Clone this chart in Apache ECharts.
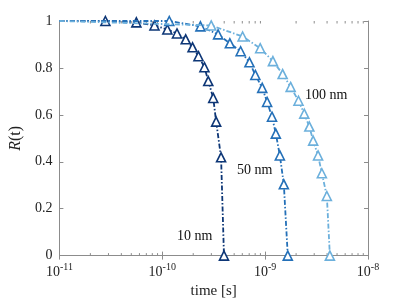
<!DOCTYPE html>
<html>
<head>
<meta charset="utf-8">
<script src="https://cdn.jsdelivr.net/npm/echarts@6/dist/echarts.min.js"></script>
<style>html,body{margin:0;padding:0;background:#fff}#c{width:407px;height:304px}</style>
</head>
<body>
<div id="c"></div>
<script>
// Data (time in seconds, R(t))
var t10 = [2.8e-11, 5.6e-11, 8.4e-11, 1.12e-10, 1.39e-10, 1.69e-10, 1.97e-10, 2.25e-10, 2.57e-10, 2.80e-10, 3.13e-10, 3.34e-10, 3.73e-10, 3.98e-10];
var r10 = [1.0, 0.994, 0.981, 0.964, 0.947, 0.922, 0.888, 0.850, 0.803, 0.744, 0.672, 0.571, 0.419, 0.0];
var t50 = [1.17e-10, 2.35e-10, 3.49e-10, 4.54e-10, 5.78e-10, 7.04e-10, 8.03e-10, 9.37e-10, 1.045e-9, 1.166e-9, 1.27e-9, 1.39e-9, 1.52e-9, 1.66e-9];
var r50 = [1.0, 0.977, 0.943, 0.905, 0.871, 0.824, 0.770, 0.715, 0.655, 0.592, 0.520, 0.427, 0.304, 0.0];
var t100 = [2.99e-10, 6.04e-10, 8.95e-10, 1.19e-9, 1.48e-9, 1.77e-9, 2.11e-9, 2.40e-9, 2.69e-9, 2.93e-9, 3.27e-9, 3.56e-9, 3.98e-9, 4.26e-9];
var r100 = [0.981, 0.934, 0.884, 0.829, 0.774, 0.719, 0.660, 0.605, 0.550, 0.490, 0.427, 0.351, 0.254, 0.0];
var tStart = 1e-11, rStart = 1;
var seriesNames = ['10 nm', '50 nm', '100 nm'];
var colors = ['#0d3676', '#2470b8', '#6cb0dc'];
var yTicks = [0, 0.2, 0.4, 0.6, 0.8, 1];
var decades = [1e-11, 1e-10, 1e-9];
var minorMultipliers = [2, 3, 4, 5, 6, 7, 8, 9];

var FONT = 'Liberation Serif';
function build(ts, rs) {
  var d = [{value: [tStart, rStart], symbol: 'none'}];
  for (var i = 0; i < ts.length; i++) d.push([ts[i], rs[i]]);
  return d;
}
var all = [[t10, r10], [t50, r50], [t100, r100]];
var series = all.map(function (p, k) {
  return {
    name: seriesNames[k], type: 'line', data: build(p[0], p[1]),
    xAxisIndex: 0, yAxisIndex: 0,
    symbol: 'triangle', symbolSize: 9, showAllSymbol: true,
    lineStyle: {color: colors[k], width: 1.8, type: [5, 2, 1.5, 2]},
    itemStyle: {color: '#fff', borderColor: colors[k], borderWidth: 1.6},
    z: 2 + k, animation: false
  };
});

var axisCol = '#8c8c8c';
// minor ticks of the log axis, placed through the axis scale
var minorVals = [];
decades.forEach(function (d) { minorMultipliers.forEach(function (m) { minorVals.push(m * d); }); });
series.push({
  type: 'custom', silent: true, clip: false, z: 1, animation: false,
  xAxisIndex: 0, yAxisIndex: 0,
  data: minorVals.map(function (v) { return [v]; }),
  encode: {x: 0},
  renderItem: function (params, api) {
    var v = api.value(0);
    var b = api.coord([v, 0]);
    var t = api.coord([v, 1]);
    var st = {stroke: axisCol, lineWidth: 1};
    return {type: 'group', children: [
      {type: 'line', shape: {x1: b[0], y1: b[1], x2: b[0], y2: b[1] - 2.5}, style: st},
      {type: 'line', shape: {x1: t[0], y1: t[1], x2: t[0], y2: t[1] + 2.5}, style: st}
    ]};
  }
});

function expLabel(v) {
  var e = Math.round(Math.log10(v));
  return '{b|10}{s|' + e + '}';
}
var xBase = {
  type: 'log', logBase: 10, min: 1e-11, max: 1e-8,
  axisLine: {show: true, lineStyle: {color: axisCol, width: 1}},
  axisTick: {show: true, inside: true, length: 4, lineStyle: {color: axisCol}},
  splitLine: {show: false}
};
var yBase = {
  type: 'value', min: 0, max: 1, interval: 0.2,
  axisLine: {show: true, lineStyle: {color: axisCol, width: 1}},
  axisTick: {show: true, inside: true, length: 4, lineStyle: {color: axisCol}},
  splitLine: {show: false}
};

var option = {
  backgroundColor: '#fff',
  animation: false,
  grid: {left: 53, right: 39, top: 21, bottom: 46, containLabel: false},
  xAxis: [
    Object.assign({}, xBase, {
      position: 'bottom',
      name: 'time [s]', nameLocation: 'middle', nameGap: 25,
      nameTextStyle: {fontFamily: FONT, fontSize: 15, color: '#222'},
      axisLabel: {
        margin: 7, formatter: expLabel,
        rich: {
          b: {fontFamily: FONT, fontSize: 14, color: '#222'},
          s: {fontFamily: FONT, fontSize: 10, color: '#222', padding: [0, 0, 9, 0]}
        }
      }
    }),
    Object.assign({}, xBase, {position: 'top', axisLabel: {show: false}})
  ],
  yAxis: [
    Object.assign({}, yBase, {
      position: 'left',
      name: '{i|R}(t)', nameLocation: 'middle', nameGap: 28, nameRotate: 90,
      nameTextStyle: {fontFamily: FONT, fontSize: 16, color: '#222',
        rich: {i: {fontFamily: FONT, fontSize: 16, fontStyle: 'italic', color: '#222'}}},
      axisLabel: {
        margin: 7, fontFamily: FONT, fontSize: 14, color: '#222',
        formatter: function (v) { return yTicks.indexOf(Math.round(v * 10) / 10) >= 0 ? String(Math.round(v * 10) / 10) : ''; }
      }
    }),
    Object.assign({}, yBase, {position: 'right', axisLabel: {show: false}})
  ],
  series: series,
  graphic: [
    {type: 'text', left: 177, top: 229, style: {text: '10 nm', font: '14px "Liberation Serif"', fill: '#111'}},
    {type: 'text', left: 237, top: 163, style: {text: '50 nm', font: '14px "Liberation Serif"', fill: '#111'}},
    {type: 'text', left: 305, top: 88, style: {text: '100 nm', font: '14px "Liberation Serif"', fill: '#111'}}
  ]
};
var chart = echarts.init(document.getElementById('c'), null, {renderer: 'canvas'});
chart.setOption(option);
</script>
</body>
</html>
